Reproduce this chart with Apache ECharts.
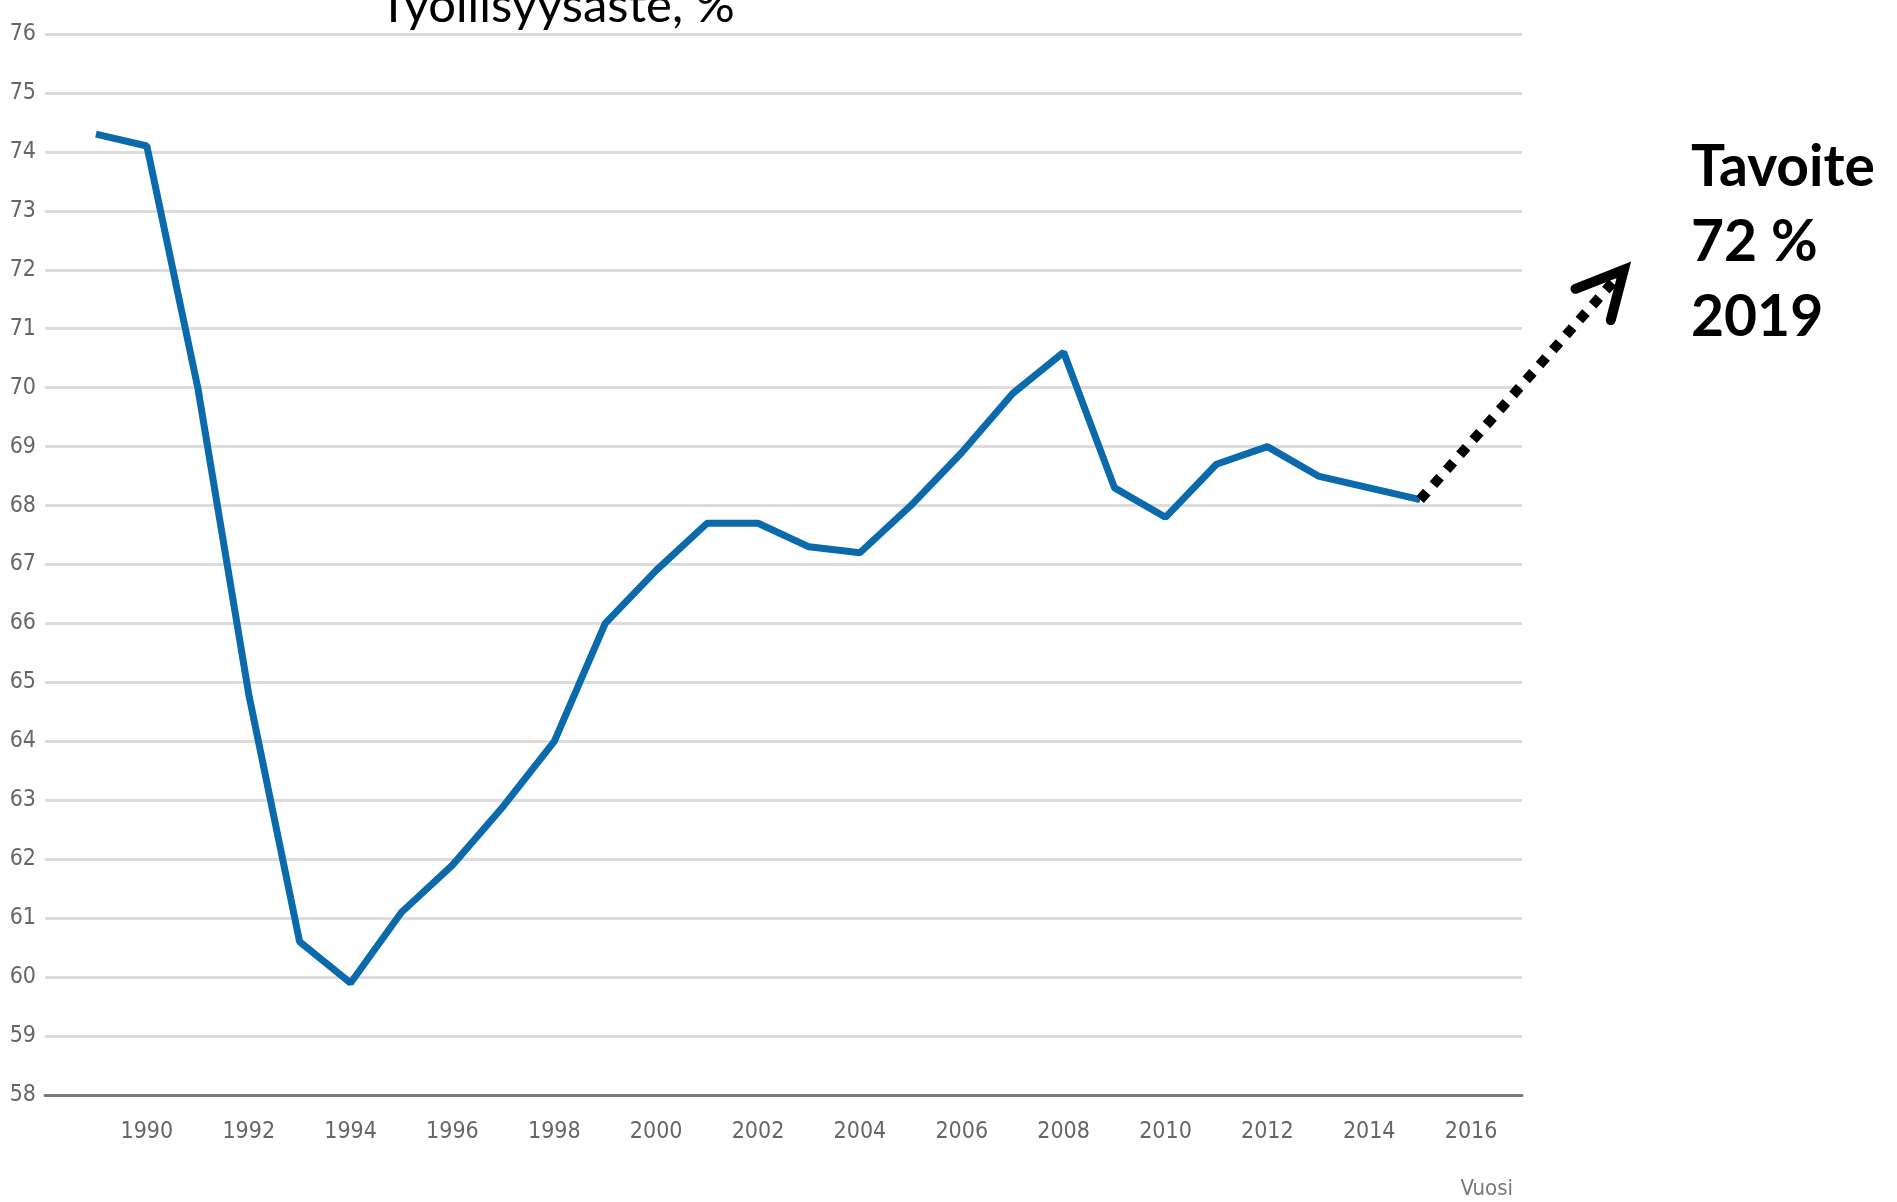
<!DOCTYPE html>
<html>
<head>
<meta charset="utf-8">
<title>Työllisyysaste</title>
<script src="https://cdn.jsdelivr.net/npm/echarts@6/dist/echarts.min.js"></script>
<style>
    html, body { margin: 0; padding: 0; background: #fff; }
    #chart { width: 1897px; height: 1202px; }
</style>
</head>
<body>
<div id="chart"></div>
<script>
// employment rate by year
const years = [1989, 1990, 1991, 1992, 1993, 1994, 1995, 1996, 1997, 1998, 1999, 2000, 2001, 2002,
    2003, 2004, 2005, 2006, 2007, 2008, 2009, 2010, 2011, 2012, 2013, 2014, 2015];
const rates = [74.3, 74.1, 70.0, 64.8, 60.6, 59.9, 61.1, 61.9, 62.9, 64.0, 66.0, 66.9, 67.7, 67.7,
    67.3, 67.2, 68.0, 68.9, 69.9, 70.6, 68.3, 67.8, 68.7, 69.0, 68.5, 68.3, 68.1];
// target (tavoite)
const targetYear = 2019;
const targetRate = 72;
const yMin = 58, yMax = 76;
const xMin = 1988, xMax = 2017;

const labelFont = "'Liberation Sans Narrow', 'DejaVu Sans Condensed', sans-serif";

const chart = echarts.init(document.getElementById('chart'));

const lastYear = years[years.length - 1];
const lastRate = rates[rates.length - 1];

chart.setOption({
    animation: false,
    grid: {
        left: 45,
        right: 375,
        top: 34,
        bottom: 107
    },
    xAxis: {
        type: 'value',
        min: xMin,
        max: xMax,
        interval: 2,
        axisLine: { lineStyle: { color: '#7a7a7a', width: 3 } },
        axisTick: { show: false },
        splitLine: { show: false },
        axisLabel: {
            margin: 26,
            fontFamily: labelFont,
            fontSize: 23,
            color: '#666',
            formatter: function (v) {
                return (v % 2 === 0 && v >= 1990 && v <= 2016) ? String(v) : '';
            }
        }
    },
    yAxis: {
        type: 'value',
        min: yMin,
        max: yMax,
        interval: 1,
        axisLine: { show: false },
        axisTick: { show: false },
        splitLine: { lineStyle: { color: '#dcdcdc', width: 3 } },
        axisLabel: {
            margin: 9,
            fontFamily: labelFont,
            fontSize: 23,
            color: '#666'
        }
    },
    series: [
        {
            type: 'line',
            data: years.map((y, i) => [y, rates[i]]),
            symbol: 'none',
            lineStyle: { color: '#0a6aab', width: 7 },
            z: 3
        }
    ]
});

// dotted arrow from the last value to the target, placed with the chart's own scales
const p0 = chart.convertToPixel({ gridIndex: 0 }, [lastYear, lastRate]);
const p1 = chart.convertToPixel({ gridIndex: 0 }, [targetYear, targetRate]);
let dx = p0[0] - p1[0], dy = p0[1] - p1[1];
const len = Math.sqrt(dx * dx + dy * dy);
dx /= len; dy /= len;
const armLen = 52, ang = 27 * Math.PI / 180;
function rot(a) {
    return [p1[0] + armLen * (dx * Math.cos(a) - dy * Math.sin(a)),
            p1[1] + armLen * (dx * Math.sin(a) + dy * Math.cos(a))];
}

chart.setOption({
    graphic: [
        {
            type: 'line',
            shape: { x1: p0[0], y1: p0[1], x2: p1[0] + dx * 8, y2: p1[1] + dy * 8 },
            style: { stroke: '#000', lineWidth: 10, lineDash: [10, 10], lineCap: 'butt' },
            z: 10
        },
        {
            type: 'polyline',
            shape: { points: [rot(ang), p1, rot(-ang)] },
            style: { stroke: '#000', lineWidth: 10, fill: null, lineCap: 'round', lineJoin: 'miter' },
            z: 10
        },
        {
            type: 'text',
            x: 379,
            y: 6,
            style: {
                text: 'Työllisyysaste, %',
                font: '49px Lato',
                fill: '#000',
                verticalAlign: 'middle'
            },
            z: 10
        },
        {
            type: 'text',
            x: 1691,
            y: 130,
            style: {
                text: 'Tavoite\n72 %\n2019',
                font: 'bold 57px Lato',
                lineHeight: 75,
                fill: '#000',
                verticalAlign: 'top'
            },
            z: 10
        },
        {
            type: 'text',
            x: 1513,
            y: 1189,
            style: {
                text: 'Vuosi',
                font: '22px ' + labelFont,
                fill: '#777',
                align: 'right',
                verticalAlign: 'middle'
            },
            z: 10
        }
    ]
});
</script>
</body>
</html>
